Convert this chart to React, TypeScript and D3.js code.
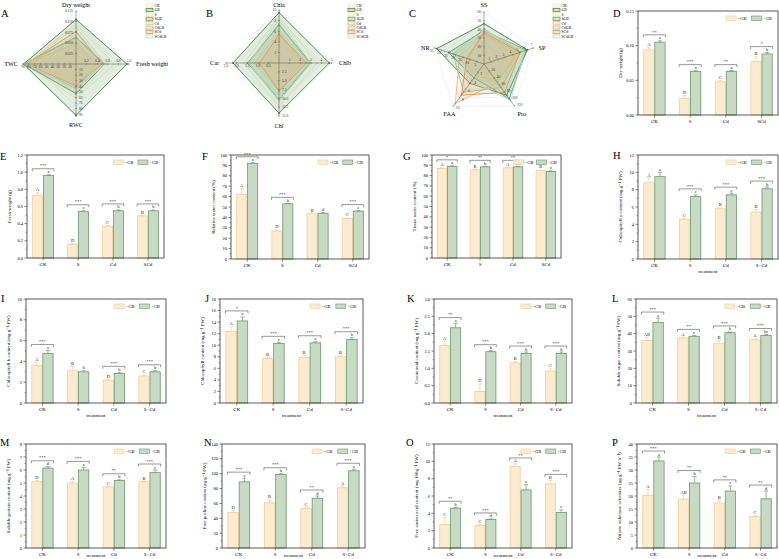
import * as d3 from "d3";

const W = 779;
const H = 559;
const FONT = "'Liberation Serif', 'DejaVu Serif', 'Times New Roman', serif";
const NO_FILL = "#fcebd0";
const NO_STROKE = "#f1cf98";
const GB_FILL = "#c8d9c5";
const GB_STROKE = "#6a996a";
const AXIS = "#333";

const catsShort = ["CK", "S", "Cd", "SCd"];
const catsLong = ["CK", "S", "Cd", "S+Cd"];

// D dry weight
const dwNo = [0.094, 0.024, 0.048, 0.077];
const dwGB = [0.105, 0.063, 0.063, 0.088];
const dwNoErr = [0.003, 0.004, 0.002, 0.007];
const dwGBErr = [0.002, 0.001, 0.001, 0.002];
const dwNoLet = ["A", "D", "C", "B"];
const dwGBLet = ["a", "a", "a", "b"];
const dwSig = ["**", "***", "**", "*"];

// E fresh weight
const fwNo = [0.73, 0.16, 0.37, 0.49];
const fwGB = [0.96, 0.54, 0.55, 0.55];
const fwNoErr = [0.03, 0.01, 0.01, 0.01];
const fwGBErr = [0.01, 0.01, 0.01, 0.01];
const fwNoLet = ["A", "D", "C", "B"];
const fwGBLet = ["a", "c", "b", "b"];
const fwSig = ["***", "***", "***", "***"];

// F relative water content
const rwcNo = [62, 27, 43.5, 39];
const rwcGB = [92, 53, 44, 46];
const rwcNoErr = [6, 1, 0.5, 0.5];
const rwcGBErr = [0.5, 0.5, 0.5, 0.5];
const rwcNoLet = ["A", "D", "B", "C"];
const rwcGBLet = ["a", "b", "d", "c"];
const rwcSig = ["***", "***", "", "***"];

// G tissue water content
const twcNo = [87, 85.5, 87.5, 85];
const twcGB = [89, 88.5, 88.5, 84];
const twcNoErr = [0.5, 0.5, 0.5, 0.5];
const twcGBErr = [0.5, 0.5, 0.5, 0.5];
const twcNoLet = ["A", "B", "A", "B"];
const twcGBLet = ["a", "b", "ab", "c"];
const twcSig = ["*", "**", "**", ""];

// H chlorophyll a
const chaNo = [8.8, 4.6, 5.8, 5.4];
const chaGB = [9.5, 7.2, 7.4, 8.1];
const chaNoErr = [0.5, 0.1, 0.1, 0.3];
const chaGBErr = [0.5, 0.2, 0.2, 0.2];
const chaNoLet = ["A", "C", "B", "B"];
const chaGBLet = ["a", "c", "c", "b"];
const chaSig = ["", "***", "***", "***"];

// I chlorophyll b
const chbNo = [3.6, 3.1, 2.2, 2.6];
const chbGB = [4.75, 3.0, 2.85, 3.0];
const chbNoErr = [0.3, 0.4, 0.1, 0.1];
const chbGBErr = [0.3, 0.1, 0.1, 0.1];
const chbNoLet = ["A", "B", "D", "C"];
const chbGBLet = ["a", "b", "b", "b"];
const chbSig = ["***", "", "***", "***"];

// J chlorophyll
const chlNo = [12.4, 7.7, 7.9, 8.0];
const chlGB = [14.2, 10.3, 10.4, 11.0];
const chlNoErr = [0.8, 0.2, 0.3, 0.3];
const chlGBErr = [0.7, 0.2, 0.2, 0.3];
const chlNoLet = ["A", "B", "B", "B"];
const chlGBLet = ["a", "c", "c", "b"];
const chlSig = ["*", "***", "***", "***"];

// K carotenoid
const carNo = [1.66, 0.33, 1.16, 0.92];
const carGB = [2.17, 1.48, 1.43, 1.43];
const carNoErr = [0.12, 0.22, 0.03, 0.07];
const carGBErr = [0.12, 0.03, 0.04, 0.04];
const carNoLet = ["A", "D", "B", "C"];
const carGBLet = ["a", "b", "b", "b"];
const carSig = ["**", "***", "***", "***"];

// L soluble sugar
const ssNo = [36, 37.5, 34.5, 36.5];
const ssGB = [46.5, 38.5, 40.5, 39];
const ssNoErr = [2, 0.5, 1.5, 0.5];
const ssGBErr = [2.5, 0.5, 0.5, 0.5];
const ssNoLet = ["AB", "A", "B", "A"];
const ssGBLet = ["a", "c", "b", "bc"];
const ssSig = ["***", "**", "***", "***"];

// M soluble protein
const spNo = [5.1, 5.0, 4.7, 5.1];
const spGB = [6.15, 6.0, 5.2, 5.8];
const spNoErr = [0.1, 0.1, 0.05, 0.05];
const spGBErr = [0.1, 0.2, 0.05, 0.2];
const spNoLet = ["D", "A", "C", "B"];
const spGBLet = ["d", "a", "b", "c"];
const spSig = ["***", "***", "**", "***"];

// N free proline
const proNo = [48, 61, 53, 81];
const proGB = [89, 99, 67, 104];
const proNoErr = [2, 4, 2, 2];
const proGBErr = [5, 1, 3, 2];
const proNoLet = ["D", "B", "C", "A"];
const proGBLet = ["c", "b", "d", "a"];
const proSig = ["***", "***", "**", "***"];

// O free amino acid
const faaNo = [2.7, 2.6, 9.4, 7.4];
const faaGB = [4.6, 3.3, 6.7, 4.1];
const faaNoErr = [0.8, 0.1, 0.3, 0.4];
const faaGBErr = [0.1, 0.05, 0.6, 0.3];
const faaNoLet = ["C", "C", "A", "B"];
const faaGBLet = ["b", "d", "a", "c"];
const faaSig = ["**", "***", "**", "***"];

// P nitrate reductase
const nrNo = [20.3, 18.8, 17.3, 12.1];
const nrGB = [33.5, 25.0, 21.9, 18.9];
const nrNoErr = [2.2, 1.5, 1.0, 0.3];
const nrGBErr = [1.5, 2.5, 2, 3];
const nrNoLet = ["A", "AB", "B", "C"];
const nrGBLet = ["a", "b", "c", "d"];
const nrSig = ["***", "**", "**", "**"];

// radar series
const radarNames = ["CK", "GB", "S", "SGB", "Cd", "CdGB", "SCd", "SCdGB"];
const radarColors = ["#efeab0", "#3f7d3f", "#f3e39b", "#5e935e", "#f5b27c", "#96c496", "#f28a3a", "#b4dccc"];

type Bar = {
  label: string; lx: number; ly: number;
  box: [number, number, number, number];
  cats: string[]; yMax: number; yStep: number; fmt: string; title: string; xTitle: boolean;
  no: number[]; gb: number[]; noErr: number[]; gbErr: number[];
  noLet: string[]; gbLet: string[]; sig: string[];
};

const bars: Bar[] = [
  { label: "D", lx: 613, ly: 17, box: [638, 778, 11, 115], cats: catsShort, yMax: 0.15, yStep: 0.05, fmt: ".2f", title: "Dry weight (g)", xTitle: false,
    no: dwNo, gb: dwGB, noErr: dwNoErr, gbErr: dwGBErr, noLet: dwNoLet, gbLet: dwGBLet, sig: dwSig },
  { label: "E", lx: 0, ly: 160, box: [27, 164, 155, 258], cats: catsShort, yMax: 1.2, yStep: 0.2, fmt: ".1f", title: "Fresh weight (g)", xTitle: false,
    no: fwNo, gb: fwGB, noErr: fwNoErr, gbErr: fwGBErr, noLet: fwNoLet, gbLet: fwGBLet, sig: fwSig },
  { label: "F", lx: 202, ly: 160, box: [231, 369, 155, 259], cats: catsShort, yMax: 100, yStep: 10, fmt: "d", title: "Relative water content (%)", xTitle: false,
    no: rwcNo, gb: rwcGB, noErr: rwcNoErr, gbErr: rwcGBErr, noLet: rwcNoLet, gbLet: rwcGBLet, sig: rwcSig },
  { label: "G", lx: 403, ly: 160, box: [432, 561, 155, 258], cats: catsShort, yMax: 100, yStep: 10, fmt: "d", title: "Tissue water content (%)", xTitle: false,
    no: twcNo, gb: twcGB, noErr: twcNoErr, gbErr: twcGBErr, noLet: twcNoLet, gbLet: twcGBLet, sig: twcSig },
  { label: "H", lx: 613, ly: 159, box: [638, 778, 155, 259], cats: catsLong, yMax: 12, yStep: 2, fmt: "d", title: "Chlorophyll a content (mg g\u207B\u00B9 FW)", xTitle: true,
    no: chaNo, gb: chaGB, noErr: chaNoErr, gbErr: chaGBErr, noLet: chaNoLet, gbLet: chaGBLet, sig: chaSig },
  { label: "I", lx: 1, ly: 302, box: [26, 166, 299, 403], cats: catsLong, yMax: 10, yStep: 2, fmt: "d", title: "Chlorophyll b content (mg g\u207B\u00B9 FW)", xTitle: true,
    no: chbNo, gb: chbGB, noErr: chbNoErr, gbErr: chbGBErr, noLet: chbNoLet, gbLet: chbGBLet, sig: chbSig },
  { label: "J", lx: 205, ly: 302, box: [220, 363, 299, 403], cats: catsLong, yMax: 18, yStep: 2, fmt: "d", title: "Chlorophyll content (mg g\u207B\u00B9 FW)", xTitle: true,
    no: chlNo, gb: chlGB, noErr: chlNoErr, gbErr: chlGBErr, noLet: chlNoLet, gbLet: chlGBLet, sig: chlSig },
  { label: "K", lx: 407, ly: 302, box: [434, 572, 299, 403], cats: catsLong, yMax: 3, yStep: 0.5, fmt: ".1f", title: "Carotenoid content (mg g\u207B\u00B9 FW)", xTitle: true,
    no: carNo, gb: carGB, noErr: carNoErr, gbErr: carGBErr, noLet: carNoLet, gbLet: carGBLet, sig: carSig },
  { label: "L", lx: 612, ly: 302, box: [636, 777, 299, 403], cats: catsLong, yMax: 60, yStep: 10, fmt: "d", title: "Soluble sugar content (mg g\u207B\u00B9 FW)", xTitle: true,
    no: ssNo, gb: ssGB, noErr: ssNoErr, gbErr: ssGBErr, noLet: ssNoLet, gbLet: ssGBLet, sig: ssSig },
  { label: "M", lx: 0, ly: 446, box: [26, 166, 444, 548], cats: catsLong, yMax: 8, yStep: 1, fmt: "d", title: "Soluble protein content (mg g\u207B\u00B9 FW)", xTitle: true,
    no: spNo, gb: spGB, noErr: spNoErr, gbErr: spGBErr, noLet: spNoLet, gbLet: spGBLet, sig: spSig },
  { label: "N", lx: 204, ly: 446, box: [222, 365, 444, 548], cats: catsLong, yMax: 140, yStep: 20, fmt: "d", title: "Free proline content (\u03BCg g\u207B\u00B9 FW)", xTitle: true,
    no: proNo, gb: proGB, noErr: proNoErr, gbErr: proGBErr, noLet: proNoLet, gbLet: proGBLet, sig: proSig },
  { label: "O", lx: 406, ly: 446, box: [434, 572, 444, 548], cats: catsLong, yMax: 12, yStep: 2, fmt: "d", title: "Free amino acid content (mg 100g\u207B\u00B9 FW)", xTitle: true,
    no: faaNo, gb: faaGB, noErr: faaNoErr, gbErr: faaGBErr, noLet: faaNoLet, gbLet: faaGBLet, sig: faaSig },
  { label: "P", lx: 612, ly: 446, box: [637, 777, 444, 548], cats: catsLong, yMax: 40, yStep: 5, fmt: "d", title: "Nitrate reductase activities (\u03BCg g\u207B\u00B9 FW h\u207B\u00B9)", xTitle: true,
    no: nrNo, gb: nrGB, noErr: nrNoErr, gbErr: nrGBErr, noLet: nrNoLet, gbLet: nrGBLet, sig: nrSig },
];

function BarPanel({ p }: { p: Bar }) {
  const [x0, x1, y0, y1] = p.box;
  const x = d3.scaleBand().domain(p.cats).range([x0, x1]).paddingInner(0.38).paddingOuter(0.15);
  const y = d3.scaleLinear().domain([0, p.yMax]).range([y1, y0]);
  const bw = x.bandwidth() / 2;
  const ticks = d3.range(0, p.yMax + p.yStep / 2, p.yStep);
  const minor = ticks.slice(0, -1).map((t) => t + p.yStep / 2);
  const fmt = d3.format(p.fmt);
  const lw = x1 - x0;
  return (
    <g fontFamily={FONT}>
      <text x={p.lx} y={p.ly} fontSize={10.5}>{p.label}</text>
      {p.cats.map((c, i) => {
        const bx = x(c)!;
        const items = [
          { v: p.no[i], e: p.noErr[i], l: p.noLet[i], fill: NO_FILL, stroke: NO_STROKE, xs: bx },
          { v: p.gb[i], e: p.gbErr[i], l: p.gbLet[i], fill: GB_FILL, stroke: GB_STROKE, xs: bx + bw },
        ];
        const top = Math.min(y(p.no[i] + p.noErr[i]), y(p.gb[i] + p.gbErr[i]));
        const by = top - 6;
        return (
          <g key={c}>
            {items.map((d, k) => (
              <g key={k}>
                <rect x={d.xs + 0.4} y={y(d.v)} width={bw - 0.8} height={y(0) - y(d.v)} fill={d.fill} stroke={d.stroke} strokeWidth={0.8} />
                <line x1={d.xs + bw / 2} x2={d.xs + bw / 2} y1={y(d.v)} y2={y(d.v + d.e)} stroke={d.stroke} strokeWidth={0.7} />
                <line x1={d.xs + bw / 2 - 2} x2={d.xs + bw / 2 + 2} y1={y(d.v + d.e)} y2={y(d.v + d.e)} stroke={d.stroke} strokeWidth={0.7} />
                <text x={d.xs + bw / 2} y={y(d.v + d.e) - 1.5} fontSize={4.5} textAnchor="middle" fill="#222">{d.l}</text>
              </g>
            ))}
            {p.sig[i] && (
              <g>
                <path d={`M${bx},${by + 2.5}V${by}H${bx + 2 * bw}V${by + 2.5}`} fill="none" stroke="#333" strokeWidth={0.5} />
                <text x={bx + bw} y={by - 1.3} fontSize={4.5} textAnchor="middle" fill="#222">{p.sig[i]}</text>
              </g>
            )}
            <line x1={bx + bw} x2={bx + bw} y1={y1} y2={y1 + 2.5} stroke={AXIS} strokeWidth={0.6} />
            <text x={bx + bw} y={y1 + 8} fontSize={5} textAnchor="middle">{c}</text>
          </g>
        );
      })}
      <rect x={x0} y={y0} width={lw} height={y1 - y0} fill="none" stroke={AXIS} strokeWidth={0.8} />
      {ticks.map((t) => (
        <g key={t}>
          <line x1={x0 - 2.5} x2={x0} y1={y(t)} y2={y(t)} stroke={AXIS} strokeWidth={0.6} />
          <text x={x0 - 4} y={y(t) + 1.5} fontSize={4.5} textAnchor="end">{fmt(t)}</text>
        </g>
      ))}
      {minor.map((t) => (
        <line key={t} x1={x0 - 1.3} x2={x0} y1={y(t)} y2={y(t)} stroke={AXIS} strokeWidth={0.5} />
      ))}
      <text transform={`translate(${x0 - 16},${(y0 + y1) / 2}) rotate(-90)`} fontSize={5} textAnchor="middle">{p.title}</text>
      {p.xTitle && (
        <text x={(x0 + x1) / 2} y={Math.min(y1 + 13.5, 556.5)} fontSize={5} textAnchor="middle">treatment</text>
      )}
      <g transform={`translate(${x0 + lw * 0.63},${y0 + 5})`}>
        <rect x={0} y={0} width={10} height={4.5} fill={NO_FILL} stroke={NO_STROKE} strokeWidth={0.6} />
        <text x={11.5} y={3.7} fontSize={4.5}>{"\u2212GB"}</text>
        <rect x={lw * 0.18} y={0} width={10} height={4.5} fill={GB_FILL} stroke={GB_STROKE} strokeWidth={0.6} />
        <text x={lw * 0.18 + 11.5} y={3.7} fontSize={4.5}>+GB</text>
      </g>
    </g>
  );
}

type Axis = { name: string; max: number; ticks: number[]; fmt: string; vals: number[]; lx: number; ly: number; anchor: string };

// each treatment's value on an axis, in legend order
const interleave = (no: number[], gb: number[]) => no.flatMap((v, i) => [v, gb[i]]);

const radars = [
  { label: "A", lx: 1, ly: 17, cx: 76, cy: 64, r: 53, legX: 146, legY: 4,
    axes: [
      { name: "Dry weight", max: 0.125, ticks: [0.025, 0.05, 0.075, 0.1, 0.125], fmt: ".3f", vals: interleave(dwNo, dwGB), lx: 0, ly: -4.5, anchor: "middle" },
      { name: "Fresh weight", max: 1.0, ticks: [0.2, 0.4, 0.6, 0.8, 1.0], fmt: ".1f", vals: interleave(fwNo, fwGB), lx: 7, ly: 2, anchor: "start" },
      { name: "RWC", max: 95, ticks: [10, 20, 30, 40, 50, 60, 70, 80, 90], fmt: "d", vals: interleave(rwcNo, rwcGB), lx: 0, ly: 10, anchor: "middle" },
      { name: "TWC", max: 90, ticks: [10, 20, 30, 40, 50, 60, 70, 80, 90], fmt: "d", vals: interleave(twcNo, twcGB), lx: -5, ly: 2, anchor: "end" },
    ] as Axis[] },
  { label: "B", lx: 206, ly: 17, cx: 279, cy: 63, r: 53, legX: 348, legY: 4,
    axes: [
      { name: "Chla", max: 10, ticks: [2, 4, 6, 8, 10], fmt: "d", vals: interleave(chaNo, chaGB), lx: 0, ly: -3.5, anchor: "middle" },
      { name: "Chlb", max: 5, ticks: [1, 2, 3, 4, 5], fmt: "d", vals: interleave(chbNo, chbGB), lx: 7, ly: 2, anchor: "start" },
      { name: "Chl", max: 15, ticks: [2.5, 5, 7.5, 10, 12.5, 15], fmt: ".1f", vals: interleave(chlNo, chlGB), lx: 0, ly: 12, anchor: "middle" },
      { name: "Car", max: 2.5, ticks: [0.5, 1, 1.5, 2, 2.5], fmt: ".1f", vals: interleave(carNo, carGB), lx: -7, ly: 2, anchor: "end" },
    ] as Axis[] },
  { label: "C", lx: 409, ly: 17, cx: 484, cy: 64, r: 52, legX: 553, legY: 4,
    axes: [
      { name: "SS", max: 60, ticks: [10, 20, 30, 40, 50, 60], fmt: "d", vals: interleave(ssNo, ssGB), lx: 0, ly: -5, anchor: "middle" },
      { name: "SP", max: 7, ticks: [1, 2, 3, 4, 5, 6, 7], fmt: "d", vals: interleave(spNo, spGB), lx: 5, ly: 2, anchor: "start" },
      { name: "Pro", max: 120, ticks: [20, 40, 60, 80, 100, 120], fmt: "d", vals: interleave(proNo, proGB), lx: 3, ly: 10, anchor: "start" },
      { name: "FAA", max: 10, ticks: [2, 4, 6, 8, 10], fmt: "d", vals: interleave(faaNo, faaGB), lx: 2, ly: 10, anchor: "end" },
      { name: "NR", max: 35, ticks: [5, 10, 15, 20, 25, 30, 35], fmt: "d", vals: interleave(nrNo, nrGB), lx: -5, ly: 2, anchor: "end" },
    ] as Axis[] },
];

function RadarPanel({ p }: { p: (typeof radars)[number] }) {
  const n = p.axes.length;
  const ang = (i: number) => (i * 2 * Math.PI) / n;
  const pt = (i: number, f: number): [number, number] => [p.cx + f * p.r * Math.sin(ang(i)), p.cy - f * p.r * Math.cos(ang(i))];
  const scales = p.axes.map((a) => d3.scaleLinear().domain([0, a.max]).range([0, 1]));
  const line = d3.line().curve(d3.curveLinearClosed);
  const rings = [0.2, 0.4, 0.6, 0.8, 1.0];
  return (
    <g fontFamily={FONT}>
      <text x={p.lx} y={p.ly} fontSize={10.5}>{p.label}</text>
      {rings.map((f) => (
        <path key={f} d={line(p.axes.map((_, i) => pt(i, f)))!} fill="none" stroke="#d8d8d8" strokeWidth={0.4} />
      ))}
      {radarNames.map((nm, s) => {
        const pts = p.axes.map((a, i) => pt(i, scales[i](a.vals[s])));
        return (
          <g key={nm}>
            <path d={line(pts)!} fill={radarColors[s]} fillOpacity={0.14} stroke={radarColors[s]} strokeWidth={0.9} />
            {pts.map((q, i) => (
              <circle key={i} cx={q[0]} cy={q[1]} r={0.9} fill={radarColors[s]} />
            ))}
          </g>
        );
      })}
      {p.axes.map((a, i) => {
        const [ex, ey] = pt(i, 1);
        const dx = Math.sin(ang(i));
        const dy = -Math.cos(ang(i));
        const ox = dy * 3;
        const oy = -dx * 3;
        const anchor = Math.abs(ox) < 0.5 ? "middle" : ox < 0 ? "end" : "start";
        return (
          <g key={a.name}>
            <line x1={p.cx} y1={p.cy} x2={ex} y2={ey} stroke="#555" strokeWidth={0.5} />
            {a.ticks.map((t) => {
              const [tx, ty] = pt(i, scales[i](t));
              return (
                <g key={t}>
                  <line x1={tx - ox * 0.4} y1={ty - oy * 0.4} x2={tx + ox * 0.4} y2={ty + oy * 0.4} stroke="#555" strokeWidth={0.4} />
                  <text x={tx + ox} y={ty + oy + 1.3} fontSize={3.6} textAnchor={anchor} fill="#333">{d3.format(a.fmt)(t)}</text>
                </g>
              );
            })}
            <text x={ex + a.lx} y={ey + a.ly} fontSize={6.2} textAnchor={a.anchor}>{a.name}</text>
          </g>
        );
      })}
      {radarNames.map((nm, s) => (
        <g key={nm} transform={`translate(${p.legX},${p.legY + s * 4.4})`}>
          <rect x={0} y={0} width={7} height={3.2} fill={radarColors[s]} fillOpacity={0.25} stroke={radarColors[s]} strokeWidth={0.7} />
          <text x={8.5} y={2.9} fontSize={3.8}>{nm}</text>
        </g>
      ))}
    </g>
  );
}

export default function App() {
  return (
    <svg width={W} height={H} style={{ position: "absolute", left: 0, top: 0, background: "#fff" }}>
      {radars.map((p) => (
        <RadarPanel key={p.label} p={p} />
      ))}
      {bars.map((p) => (
        <BarPanel key={p.label} p={p} />
      ))}
    </svg>
  );
}
